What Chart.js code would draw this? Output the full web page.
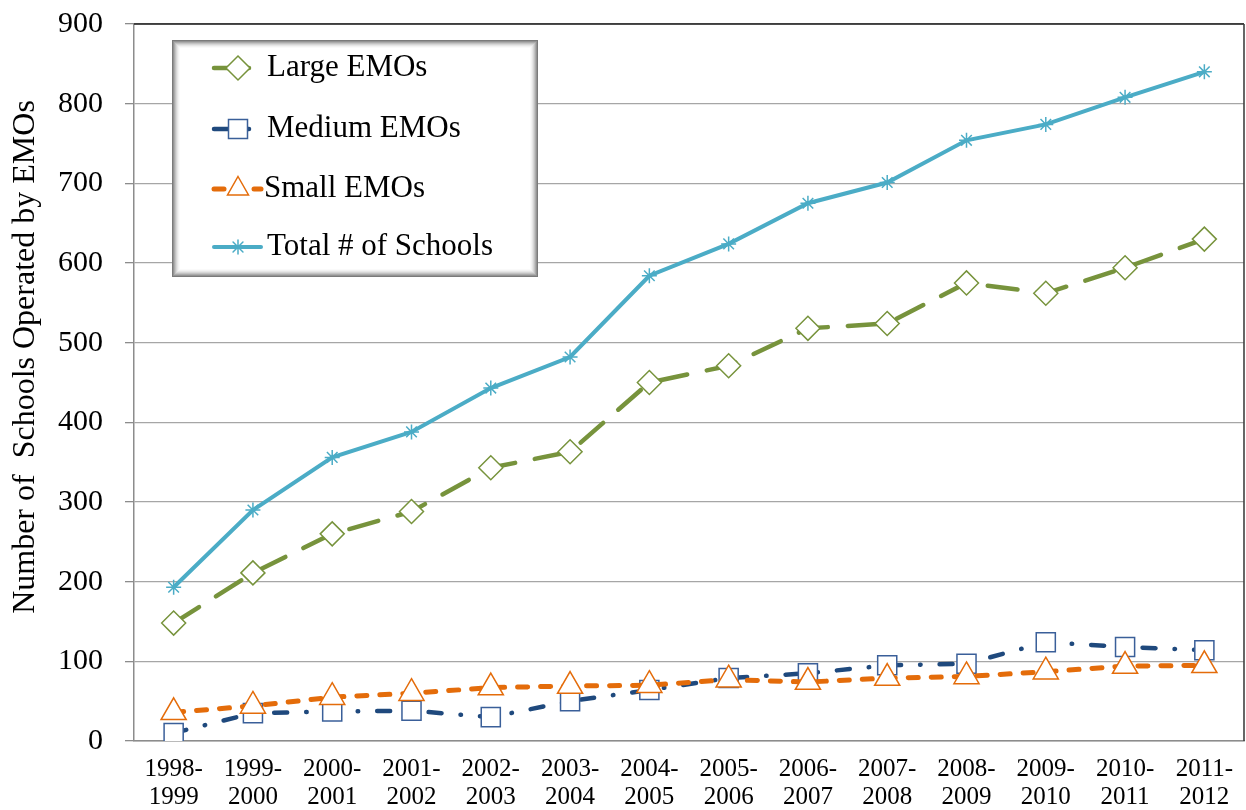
<!DOCTYPE html>
<html>
<head>
<meta charset="utf-8">
<script src="https://cdn.jsdelivr.net/npm/chart.js@4"></script>
<style>
  html, body { margin: 0; padding: 0; background: #ffffff; }
  #wrap { position: relative; width: 1246px; height: 810px; }
</style>
</head>
<body>
<div id="wrap"><canvas id="c"></canvas></div>
<script>
// ---- data ----
const categories = ['1998-1999','1999-2000','2000-2001','2001-2002','2002-2003','2003-2004','2004-2005',
                    '2005-2006','2006-2007','2007-2008','2008-2009','2009-2010','2010-2011','2011-2012'];
const largeEMOs  = [148, 211, 260, 288, 343, 363, 450, 471, 518, 524, 575, 562, 594, 630];
const mediumEMOs = [10, 35, 37, 38, 30, 50, 64, 79, 85, 95, 97, 124, 118, 114];
const smallEMOs  = [36, 44, 55, 60, 67, 69, 70, 77, 74, 79, 81, 87, 94, 95];
const totalSchools = [193, 290, 356, 388, 443, 482, 584, 624, 675, 701, 754, 774, 808, 840];
const seriesNames = ['Large EMOs', 'Medium EMOs', 'Small EMOs', 'Total # of Schools'];
const yTitle = 'Number of  Schools Operated by EMOs';
const yMin = 0, yMax = 900, yStep = 100;

const FONT = '"Liberation Serif", "Times New Roman", serif';
const C_LARGE = '#77933C', C_MED = '#1F497D', C_MED_MK = '#3A5F99', C_SMALL = '#E46C0A', C_TOTAL = '#4BACC6';

function tickLabel(s) { const p = s.split('-'); return [p[0] + '-', p[1]]; }

// ---- custom legend, axis title + plot border ----
function drawMarker(ctx, type, x, y, r, color) {
  ctx.save();
  ctx.lineWidth = 1.5; ctx.strokeStyle = color; ctx.fillStyle = '#fff';
  ctx.beginPath();
  if (type === 'diamond') {
    ctx.moveTo(x, y - r); ctx.lineTo(x + r, y); ctx.lineTo(x, y + r); ctx.lineTo(x - r, y); ctx.closePath();
    ctx.fill(); ctx.stroke();
  } else if (type === 'square') {
    ctx.rect(x - r, y - r, 2 * r, 2 * r); ctx.fill(); ctx.stroke();
  } else if (type === 'triangle') {
    ctx.moveTo(x, y - r); ctx.lineTo(x + r, y + r * 0.75); ctx.lineTo(x - r, y + r * 0.75); ctx.closePath();
    ctx.fill(); ctx.stroke();
  } else if (type === 'star') {
    for (let i = 0; i < 4; i++) {
      const a = i * Math.PI / 4;
      ctx.moveTo(x + Math.cos(a) * r, y + Math.sin(a) * r);
      ctx.lineTo(x - Math.cos(a) * r, y - Math.sin(a) * r);
    }
    ctx.stroke();
  }
  ctx.restore();
}

const customPlugin = {
  id: 'custom',
  beforeDatasetsDraw(chart) {
    const { ctx, chartArea: a } = chart;
    ctx.save();
    ctx.lineWidth = 1.6;
    ctx.strokeStyle = '#1a1a1a';
    ctx.beginPath(); ctx.moveTo(a.left, a.top); ctx.lineTo(a.right, a.top); ctx.stroke();
    ctx.strokeStyle = '#404040';
    ctx.beginPath(); ctx.moveTo(a.right, a.top); ctx.lineTo(a.right, a.bottom); ctx.stroke();
    // y axis title
    ctx.fillStyle = '#000';
    ctx.font = '32px ' + FONT;
    ctx.textAlign = 'center';
    ctx.textBaseline = 'middle';
    ctx.translate(26, 357);
    ctx.rotate(-Math.PI / 2);
    ctx.fillText(yTitle, 0, 0);
    ctx.restore();
  },
  afterDraw(chart) {
    const ctx = chart.ctx;
    const bx = 172, by = 40, bw = 366, bh = 237;
    ctx.save();
    const shades = ['#7a7a7a','#939393','#ababab','#c2c2c2','#d6d6d6','#e6e6e6','#f2f2f2','#fafafa'];
    ctx.fillStyle = '#ffffff';
    ctx.fillRect(bx, by, bw, bh);
    for (let i = 0; i < shades.length; i++) {
      ctx.strokeStyle = shades[i]; ctx.lineWidth = 1;
      ctx.strokeRect(bx + i + 0.5, by + i + 0.5, bw - 2 * i - 1, bh - 2 * i - 1);
    }
    const rows = [68, 129, 189, 247];
    ctx.lineCap = 'round';
    ctx.strokeStyle = C_LARGE; ctx.lineWidth = 4.5;
    ctx.beginPath(); ctx.moveTo(214, rows[0]); ctx.lineTo(249, rows[0]); ctx.stroke();
    drawMarker(ctx, 'diamond', 238, rows[0], 12, C_LARGE);
    ctx.strokeStyle = C_MED; ctx.lineWidth = 4.5;
    ctx.beginPath(); ctx.moveTo(214, rows[1]); ctx.lineTo(249, rows[1]); ctx.stroke();
    drawMarker(ctx, 'square', 238, rows[1], 9.5, C_MED_MK);
    ctx.strokeStyle = C_SMALL; ctx.lineWidth = 5;
    ctx.beginPath(); ctx.moveTo(214, rows[2]); ctx.lineTo(224, rows[2]); ctx.stroke();
    ctx.beginPath(); ctx.moveTo(254, rows[2]); ctx.lineTo(261, rows[2]); ctx.stroke();
    drawMarker(ctx, 'triangle', 238, rows[2] - 2, 10.5, C_SMALL);
    ctx.strokeStyle = C_TOTAL; ctx.lineWidth = 4;
    ctx.beginPath(); ctx.moveTo(214, rows[3]); ctx.lineTo(261, rows[3]); ctx.stroke();
    drawMarker(ctx, 'star', 238, rows[3], 7, C_TOTAL);
    ctx.fillStyle = '#000';
    ctx.font = '31px ' + FONT;
    ctx.textBaseline = 'middle';
    ctx.textAlign = 'left';
    ctx.fillText(seriesNames[0], 267, rows[0]);
    ctx.fillText(seriesNames[1], 267, rows[1]);
    ctx.fillText(seriesNames[2], 264, rows[2]);
    ctx.fillText(seriesNames[3], 267, rows[3]);
    ctx.restore();
  }
};

new Chart(document.getElementById('c'), {
  type: 'line',
  data: {
    labels: categories,
    datasets: [
      { label: seriesNames[0], data: largeEMOs, order: 2,
        borderColor: C_LARGE, borderWidth: 4.5, borderDash: [30, 20], borderCapStyle: 'round',
        pointStyle: 'rectRot', pointRadius: 12, pointBorderWidth: 1.5,
        pointBorderColor: C_LARGE, pointBackgroundColor: '#ffffff', tension: 0 },
      { label: seriesNames[1], data: mediumEMOs, order: 1,
        borderColor: C_MED, borderWidth: 4.5, borderDash: [13, 19, 0.5, 19], borderCapStyle: 'round',
        pointStyle: 'rect', pointRadius: 13.5, pointBorderWidth: 1.5,
        pointBorderColor: C_MED_MK, pointBackgroundColor: '#ffffff', tension: 0 },
      { label: seriesNames[2], data: smallEMOs, order: 0,
        borderColor: C_SMALL, borderWidth: 5, borderDash: [10, 13], borderCapStyle: 'round',
        pointStyle: 'triangle', pointRadius: 14.5, pointBorderWidth: 1.5,
        pointBorderColor: C_SMALL, pointBackgroundColor: '#ffffff', tension: 0 },
      { label: seriesNames[3], data: totalSchools, order: 3,
        borderColor: C_TOTAL, borderWidth: 4, borderCapStyle: 'round',
        pointStyle: 'star', pointRadius: 7.5, pointBorderWidth: 1.5,
        pointBorderColor: C_TOTAL, pointBackgroundColor: C_TOTAL, tension: 0 }
    ]
  },
  options: {
    responsive: true,
    maintainAspectRatio: false,
    animation: false,
    events: [],
    layout: { autoPadding: false, padding: { top: 24, right: 2, bottom: 0, left: 0 } },
    plugins: { legend: { display: false }, tooltip: { enabled: false } },
    scales: {
      x: {
        type: 'category',
        offset: true,
        grid: { display: false, drawTicks: false },
        border: { display: true, color: '#8c8c8c', width: 1.5 },
        ticks: {
          color: '#000', padding: 14, maxRotation: 0, autoSkip: false,
          font: { family: FONT, size: 25, lineHeight: 1.12 },
          callback: function (v, i) { return tickLabel(categories[i]); }
        },
        afterFit: function (s) { s.height = 69; s.paddingLeft = 0; s.paddingRight = 0; s.paddingTop = 0; s.paddingBottom = 0; }
      },
      y: {
        min: yMin, max: yMax,
        grid: { color: '#a6a6a6', lineWidth: 1.3, tickLength: 9, tickColor: '#8c8c8c' },
        border: { display: true, color: '#8c8c8c', width: 1.5 },
        ticks: { stepSize: yStep, color: '#000', padding: 22,
                 font: { family: FONT, size: 30 } },
        title: { display: false },
        afterFit: function (s) { s.width = 134; s.paddingTop = 0; s.paddingBottom = 0; s.paddingLeft = 0; s.paddingRight = 0; }
      }
    }
  },
  plugins: [customPlugin]
});
</script>
</body>
</html>
